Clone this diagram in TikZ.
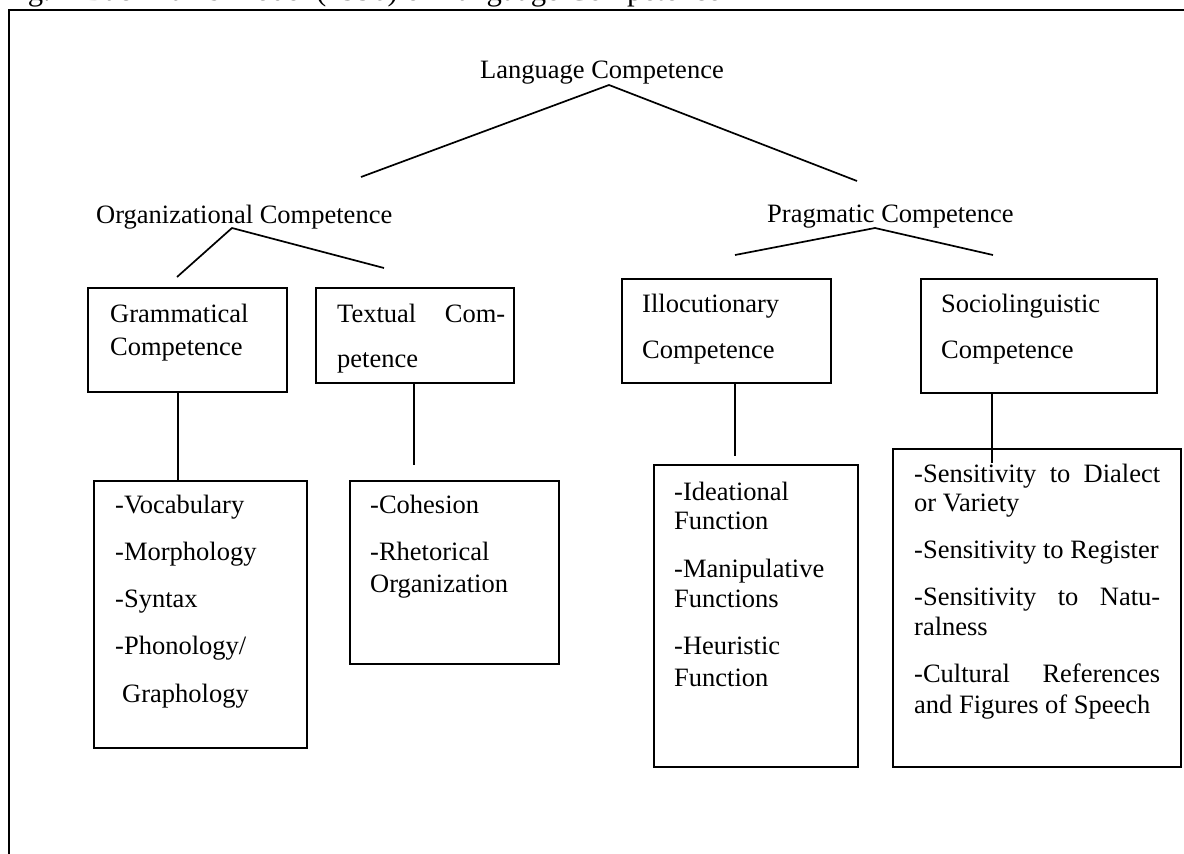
\documentclass[tikz,border=0pt]{standalone}
\usepackage{fontspec}
\setmainfont{Liberation Serif}
\begin{document}
\begin{tikzpicture}[x=1pt,y=-1pt,
  box/.style={draw, line width=1.8pt, inner sep=0pt, anchor=north west},
  conn/.style={line width=1.7pt},
  txt/.style={anchor=base west, inner sep=0pt, font=\fontsize{26.5}{32}\selectfont},
  captxt/.style={anchor=base west, inner sep=0pt, font=\fontsize{30.7}{36}\selectfont}]
\useasboundingbox (0,0) rectangle (1184,854);
\clip (0,0) rectangle (1184,854);

% caption (cut off at top) and outer frame
\node[captxt] (cap) at (2,0.5) {Fig. 1 Bachman's Model (1990) of Language Competence};
\draw[line width=1.8pt] (9,880) -- (9,10) -- (1200,10);

% headings
\node[txt] (lang) at (480,78) {Language Competence};
\node[txt] (org) at (96,223) {Organizational Competence};
\node[txt] (prag) at (767,222) {Pragmatic Competence};

% branch points
\coordinate (langapex) at (609,85);
\coordinate (langL) at (361,177);
\coordinate (langR) at (857,181);
\coordinate (orgapex) at (232,228);
\coordinate (orgL) at (177,277);
\coordinate (orgR) at (384,268);
\coordinate (pragapex) at (875,228);
\coordinate (pragL) at (735,255);
\coordinate (pragR) at (993,255);

\draw[conn] (langL) -- (langapex) -- (langR);
\draw[conn] (orgL) -- (orgapex) -- (orgR);
\draw[conn] (pragL) -- (pragapex) -- (pragR);

% second level boxes
\node[box, minimum width=199pt, minimum height=104pt] (gram) at (87,287) {};
\node[box, minimum width=198pt, minimum height=95pt] (textc) at (315,287) {};
\node[box, minimum width=209pt, minimum height=104pt] (illo) at (621,278) {};
\node[box, minimum width=236pt, minimum height=114pt] (socio) at (920,278) {};

\node[txt] (gramt1) at (110,322) {Grammatical};
\node[txt] (gramt2) at (110,355) {Competence};
\node[txt] (textt1) at (337,322) {\hbox to 168pt{Textual\hfill Com-}};
\node[txt] (textt2) at (337,367) {petence};
\node[txt] (illot1) at (642,312) {Illocutionary};
\node[txt] (illot2) at (642,358) {Competence};
\node[txt] (sociot1) at (941,312) {Sociolinguistic};
\node[txt] (sociot2) at (941,358) {Competence};

% third level boxes
\node[box, minimum width=213pt, minimum height=267pt] (voc) at (93,480) {};
\node[box, minimum width=209pt, minimum height=183pt] (coh) at (349,480) {};
\node[box, minimum width=204pt, minimum height=302pt] (idea) at (653,464) {};
\node[box, minimum width=288pt, minimum height=318pt] (sens) at (892,448) {};

\node[txt] (voct1) at (115,513) {-Vocabulary};
\node[txt] (voct2) at (115,560) {-Morphology};
\node[txt] (voct3) at (115,607) {-Syntax};
\node[txt] (voct4) at (115,654) {-Phonology/};
\node[txt] (voct5) at (122,702) {Graphology};

\node[txt] (coht1) at (370,513) {-Cohesion};
\node[txt] (coht2) at (370,560) {-Rhetorical};
\node[txt] (coht3) at (370,592) {Organization};

\node[txt] (ideat1) at (674,500) {-Ideational};
\node[txt] (ideat2) at (674,529) {Function};
\node[txt] (ideat3) at (674,577) {-Manipulative};
\node[txt] (ideat4) at (674,607) {Functions};
\node[txt] (ideat5) at (674,654) {-Heuristic};
\node[txt] (ideat6) at (674,686) {Function};

\node[txt] (senst1) at (914,482) {\hbox to 246pt{-Sensitivity\hfill to\hfill Dialect}};
\node[txt] (senst2) at (914,511) {or Variety};
\node[txt] (senst3) at (914,558) {-Sensitivity to Register};
\node[txt] (senst4) at (914,605) {\hbox to 246pt{-Sensitivity\hfill to\hfill Natu-}};
\node[txt] (senst5) at (914,635) {ralness};
\node[txt] (senst6) at (914,682) {\hbox to 246pt{-Cultural\hfill References}};
\node[txt] (senst7) at (914,713) {and Figures of Speech};

% vertical connectors
\coordinate (vg) at (178,0);
\coordinate (vt) at (414,0);
\coordinate (vi) at (735,0);
\coordinate (vs) at (992,0);
\coordinate (vtend) at (414,465);
\coordinate (viend) at (735,456);
\coordinate (vsend) at (992,463);
\draw[conn] (gram.south -| vg) -- (voc.north -| vg);
\draw[conn] (textc.south -| vt) -- (vtend);
\draw[conn] (illo.south -| vi) -- (viend);
\draw[conn] (socio.south -| vs) -- (vsend);
\end{tikzpicture}
\end{document}
